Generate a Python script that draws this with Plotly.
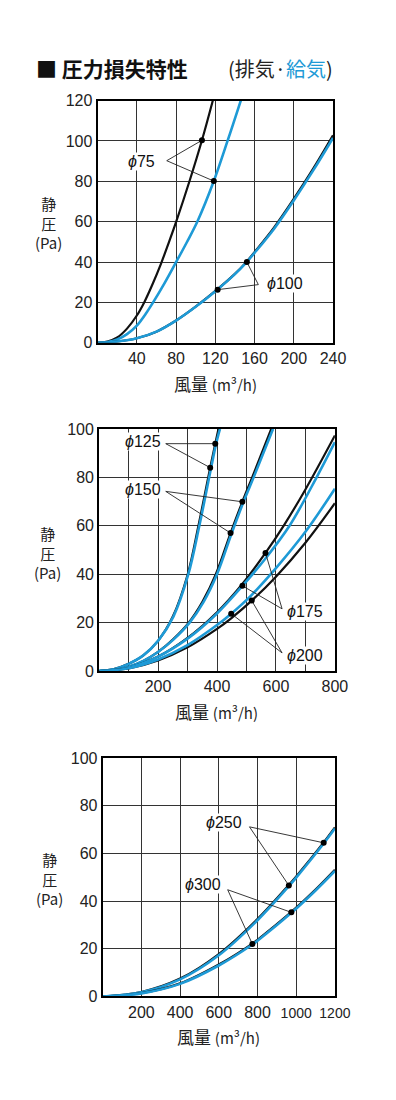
import plotly.graph_objects as go

BLUE = "#1E9AD6"
BLACK = "#111111"
GRID = "#333333"
FONT = "Liberation Sans, Arial, sans-serif"
JP = "Noto Sans CJK JP, sans-serif"

# ---------------- data (flow m3/h, static pressure Pa) ----------------
# chart 1
c1_75_ex_q = [0, 10, 20, 30, 40, 47.5, 56, 64.5, 72.5, 80.5, 94, 106.4, 117.5]
c1_75_ex_p = [0, 0.6, 2.6, 7, 13.5, 20, 29, 39, 49.5, 60.5, 80.5, 100.3, 120]
c1_75_su_q = [0, 10, 20, 30, 40, 50, 56, 68, 80, 91, 102, 118.5, 132.5, 146]
c1_75_su_p = [0, 0.3, 1.6, 4.3, 8.5, 15, 19.5, 29.3, 39.9, 49.8, 60.3, 80.1, 100, 120]
c1_100_q = [0, 20, 40, 60, 80, 100, 122, 140, 152, 160, 180, 200, 220, 240]
c1_100_ex_p = [0, 0.6, 2.2, 5.5, 11, 17.9, 26.4, 34.1, 40.2, 44.9, 57.2, 71.3, 86.4, 102.8]
c1_100_su_p = [0, 0.6, 2.2, 5.5, 11, 17.8, 26.3, 34, 40, 44.5, 56.5, 70.5, 85.5, 101.5]
c1_dot_q = [106.4, 118.5, 152.2, 122.4]
c1_dot_p = [100.3, 80.1, 40, 26.3]

# chart 2
c2_125_ex_q = [0, 50, 100, 150, 200, 250, 300, 337, 376.8, 394, 405]
c2_125_su_q = [0, 50, 100, 150, 200, 252, 302, 340, 380, 397, 410]
c2_125_p = [0, 0.8, 3, 6.5, 12.5, 22.5, 39.7, 60, 84, 93.9, 100]
c2_150_ex_q = [0, 50, 100, 150, 200, 250, 304, 350, 396, 446, 486, 521, 584]
c2_150_su_q = [0, 50, 100, 150, 200, 252, 307, 354, 400, 450, 490, 526, 590]
c2_150_p = [0, 0.5, 1.8, 4.2, 7.9, 13, 20, 28.5, 40, 57, 69.9, 80.5, 100]
c2_175_ex_q = [0, 100, 200, 300, 400, 486, 564.5, 627.6, 700, 800]
c2_175_ex_p = [0, 1.5, 6, 13.7, 24.3, 36, 48.8, 60.3, 75, 97.3]
c2_175_su_q = [0, 100, 200, 300, 400, 486.3, 564.5, 646, 738, 800]
c2_175_su_p = [0, 1.5, 6, 13.4, 23.8, 35.2, 46.5, 60, 80, 94.5]
c2_200_su_q = [0, 100, 200, 300, 400, 448.2, 518, 600, 700, 800]
c2_200_su_p = [0, 1.2, 4.8, 10.7, 19, 23.7, 31.5, 42.5, 57.5, 75.3]
c2_200_ex_q = [0, 100, 200, 300, 400, 448, 517.8, 600, 700, 800]
c2_200_ex_p = [0, 1.1, 4.4, 9.8, 17.4, 21.8, 29.1, 39, 53, 69.3]
c2_dot_q = [394, 376.8, 486, 446, 564.5, 486.3, 517.8, 448.2]
c2_dot_p = [93.9, 84, 69.9, 57, 48.8, 35.2, 29.1, 23.7]

# chart 3
c3_q = [0, 200, 400, 600, 800, 962, 1000, 1142, 1200]
c3_250_ex_p = [0, 1.9, 7.5, 17.8, 32.5, 46.8, 50.4, 64.7, 71.0]
c3_250_su_p = [0, 1.8, 7.2, 17.3, 32.0, 46.3, 49.9, 64.2, 70.5]
c3_300_q = [0, 200, 400, 600, 773.6, 800, 975, 1100, 1200]
c3_300_ex_p = [0, 1.4, 5.5, 13.4, 22.2, 23.8, 35.5, 44.9, 53.2]
c3_300_su_p = [0, 1.3, 5.3, 13.0, 21.8, 23.4, 35.1, 44.5, 52.7]
c3_dot_q = [1142, 962, 975, 773.6]
c3_dot_p = [64.5, 46.6, 35.3, 22]

# axes ticks
c1_xticks = [40, 80, 120, 160, 200, 240]
c1_yticks = [0, 20, 40, 60, 80, 100, 120]
c2_xticks = [200, 400, 600, 800]
c3_xticks = [200, 400, 600, 800, 1000, 1200]
y100_ticks = [0, 20, 40, 60, 80, 100]

# labels: symbol, size text, label centre, leader vertex, indices of dots
c1_labels = [("ϕ", "75", (45, 90), (70.5, 90.2), [0, 1]),
             ("ϕ", "100", (191.5, 29.3), (163.9, 28.8), [2, 3])]
c2_labels = [("ϕ", "125", (150, 94.6), (226, 93.9), [0, 1]),
             ("ϕ", "150", (150, 74.9), (226, 74.2), [2, 3]),
             ("ϕ", "175", (700, 24.4), (620.8, 25.7), [4, 5]),
             ("ϕ", "200", (700, 6.5), (620.8, 7.5), [6, 7])]
c3_labels = [("ϕ", "250", (626, 73), (758.6, 71.2), [0, 1]),
             ("ϕ", "300", (519, 46.8), (646, 44.8), [2, 3])]

W, H = 396, 1100
fig = go.Figure()


def line(q, p, color, width, ax):
    fig.add_trace(go.Scatter(x=q, y=p, mode="lines", line=dict(color=color, width=width, shape="spline", smoothing=1.0),
                             xaxis="x" + ax, yaxis="y" + ax, hoverinfo="skip", showlegend=False))


def leaders(labels, dq, dp, ax):
    xs, ys = [], []
    for _, _, c, v, idx in labels:
        for i in idx:
            xs += [v[0], dq[i], None]
            ys += [v[1], dp[i], None]
    fig.add_trace(go.Scatter(x=xs, y=ys, mode="lines", line=dict(color="#222", width=0.9),
                             xaxis="x" + ax, yaxis="y" + ax, hoverinfo="skip", showlegend=False))
    fig.add_trace(go.Scatter(x=dq, y=dp, mode="markers", marker=dict(color="#000", size=6),
                             xaxis="x" + ax, yaxis="y" + ax, hoverinfo="skip", showlegend=False))


# chart 1
line(c1_75_ex_q, c1_75_ex_p, BLACK, 2.2, "")
line(c1_75_su_q, c1_75_su_p, BLUE, 2.6, "")
line(c1_100_q, c1_100_ex_p, BLACK, 2.2, "")
line(c1_100_q, c1_100_su_p, BLUE, 2.6, "")
leaders(c1_labels, c1_dot_q, c1_dot_p, "")
# chart 2
line(c2_125_ex_q, c2_125_p, BLACK, 2.2, "2")
line(c2_125_su_q, c2_125_p, BLUE, 2.6, "2")
line(c2_150_ex_q, c2_150_p, BLACK, 2.2, "2")
line(c2_150_su_q, c2_150_p, BLUE, 2.6, "2")
line(c2_175_ex_q, c2_175_ex_p, BLACK, 2.2, "2")
line(c2_175_su_q, c2_175_su_p, BLUE, 2.6, "2")
line(c2_200_ex_q, c2_200_ex_p, BLACK, 2.2, "2")
line(c2_200_su_q, c2_200_su_p, BLUE, 2.6, "2")
leaders(c2_labels, c2_dot_q, c2_dot_p, "2")
# chart 3
line(c3_q, c3_250_ex_p, BLACK, 2.2, "3")
line(c3_q, c3_250_su_p, BLUE, 2.6, "3")
line(c3_300_q, c3_300_ex_p, BLACK, 2.2, "3")
line(c3_300_q, c3_300_su_p, BLUE, 2.6, "3")
leaders(c3_labels, c3_dot_q, c3_dot_p, "3")


def xd(a, b):
    return [a / W, b / W]


def yd(top, bot):
    return [1 - bot / H, 1 - top / H]


axis_common = dict(showline=True, linecolor="#000", linewidth=2, mirror=True, ticks="",
                   showgrid=True, gridcolor=GRID, gridwidth=1, zeroline=False,
                   tickfont=dict(family=FONT, size=16, color="#222"), fixedrange=True)

small = "<span style='font-size:14px'>%s</span>"
c3_ticktext = [str(v) if v < 1000 else small % v for v in c3_xticks]

fig.update_layout(
    width=W, height=H, autosize=False, margin=dict(l=0, r=0, t=0, b=0),
    paper_bgcolor="white", plot_bgcolor="white", showlegend=False,
    xaxis=dict(axis_common, domain=xd(101.7, 347), range=[0, 240], tickvals=c1_xticks, anchor="y"),
    yaxis=dict(axis_common, domain=yd(94, 340), range=[0, 120], tickvals=c1_yticks, anchor="x"),
    xaxis2=dict(axis_common, domain=xd(103.3, 349), range=[0, 800], tickvals=c2_xticks, anchor="y2",
                minor=dict(tick0=0, dtick=100, showgrid=True, gridcolor=GRID, gridwidth=1, ticks="")),
    yaxis2=dict(axis_common, domain=yd(427.5, 673.5), range=[0, 100], tickvals=y100_ticks, anchor="x2"),
    xaxis3=dict(axis_common, domain=xd(107, 349), range=[0, 1200], tickvals=c3_xticks, ticktext=c3_ticktext, anchor="y3"),
    yaxis3=dict(axis_common, domain=yd(762, 1004), range=[0, 100], tickvals=y100_ticks, anchor="x3"),
)

ann = []
# title
ann.append(dict(x=35 / W, y=1 - 61 / H, xref="paper", yref="paper", xanchor="left", yanchor="middle",
                text="<b>■ 圧力損失特性</b>", showarrow=False, font=dict(family=JP, size=21, color="#111")))
ann.append(dict(x=236 / W, y=1 - 61 / H, xref="paper", yref="paper", xanchor="left", yanchor="middle",
                text="(排気·<span style='color:%s'>給気</span>)" % BLUE, showarrow=False,
                font=dict(family=JP, size=20, color="#222")))

# axis titles
for yc, xc in [(218, 51), (553.5, 50), (885, 52)]:
    ann.append(dict(x=xc / W, y=1 - yc / H, xref="paper", yref="paper", xanchor="center", yanchor="middle",
                    text="静<br>圧<br>(Pa)", showarrow=False, font=dict(family=JP, size=15, color="#222")))
for yc, xc in [(381, 225), (715, 226), (1045, 228)]:
    ann.append(dict(x=xc / W, y=1 - yc / H, xref="paper", yref="paper", xanchor="center", yanchor="middle",
                    text="風量 <span style='font-size:15px'>(m³/h)</span>", showarrow=False,
                    font=dict(family=JP, size=17, color="#222")))

# curve labels
for labels, ax in [(c1_labels, ""), (c2_labels, "2"), (c3_labels, "3")]:
    for phi, num, c, v, idx in labels:
        ann.append(dict(x=c[0], y=c[1], xref="x" + ax, yref="y" + ax, xanchor="center", yanchor="middle",
                        text="<i>%s</i>%s" % (phi, num), showarrow=False, bgcolor="white", borderpad=0,
                        font=dict(family=FONT, size=16, color="#111")))

fig.update_layout(annotations=ann)
fig.write_html("out.html", config={"displayModeBar": False},
               post_script="document.body.style.margin='0';document.body.style.overflow='hidden';")
